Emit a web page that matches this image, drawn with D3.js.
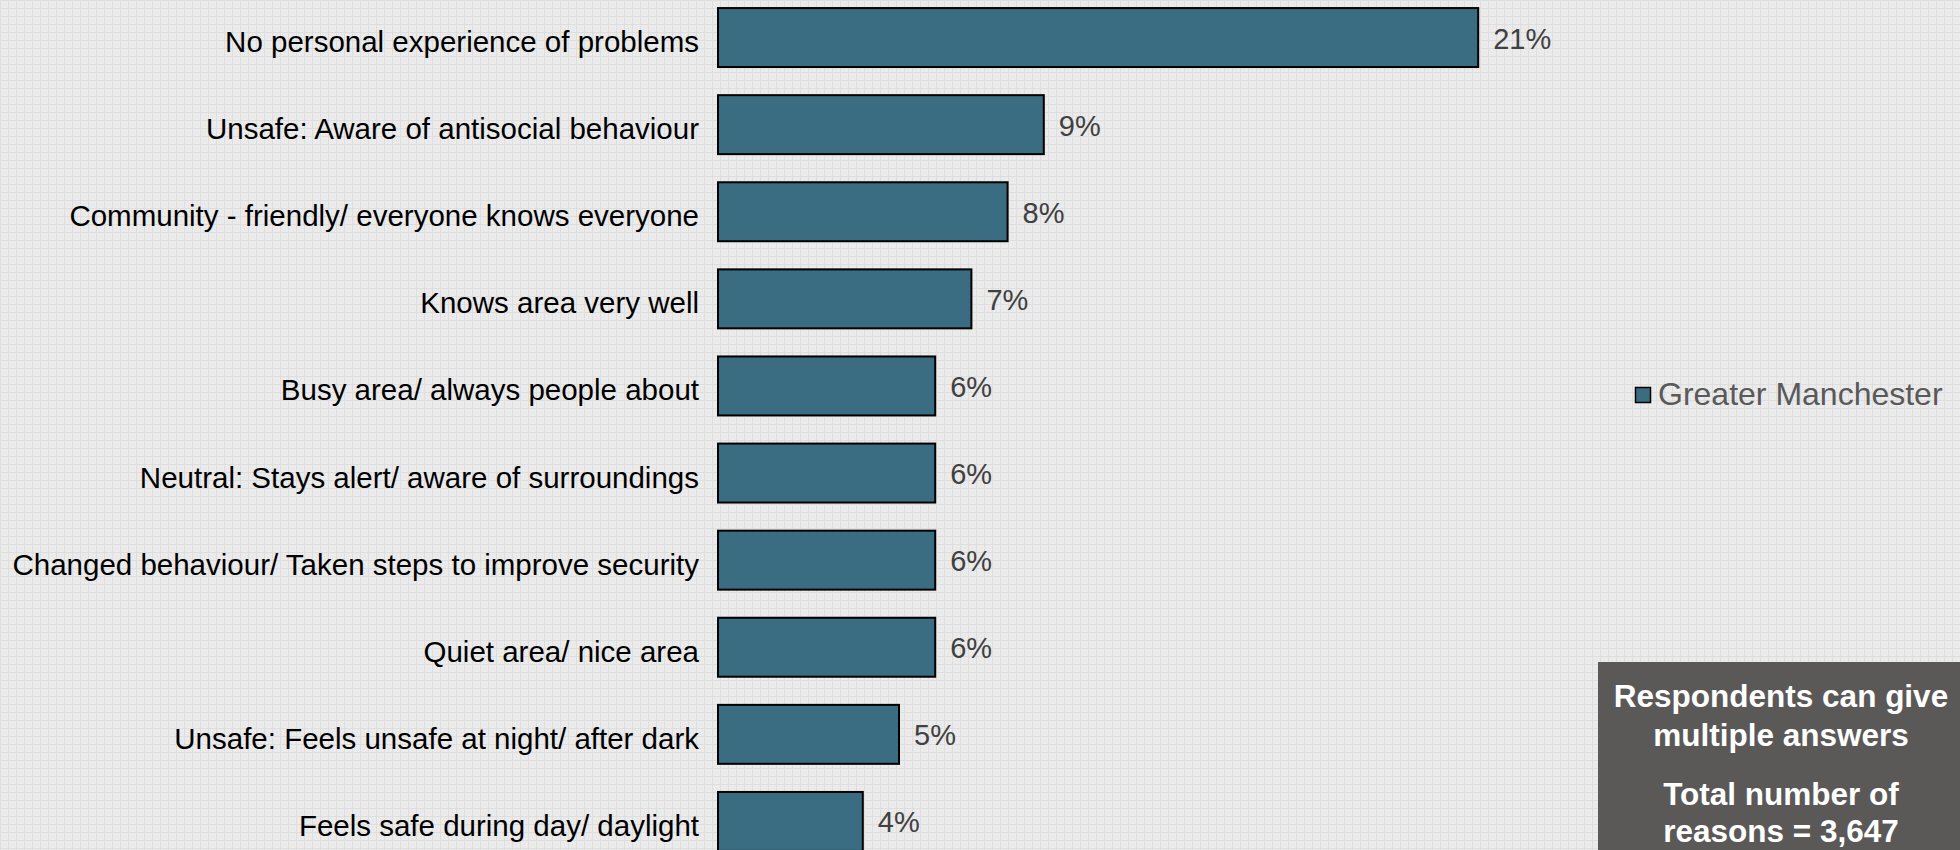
<!DOCTYPE html>
<html>
<head>
<meta charset="utf-8">
<script src="https://cdn.jsdelivr.net/npm/d3@7/dist/d3.min.js"></script>
<style>
html, body { margin: 0; padding: 0; background: #e9e9e9; overflow: hidden; }
svg { display: block; }
</style>
</head>
<body>
<script>
const categories = [
  "No personal experience of problems",
  "Unsafe: Aware of antisocial behaviour",
  "Community - friendly/ everyone knows everyone",
  "Knows area very well",
  "Busy area/ always people about",
  "Neutral: Stays alert/ aware of surroundings",
  "Changed behaviour/ Taken steps to improve security",
  "Quiet area/ nice area",
  "Unsafe: Feels unsafe at night/ after dark",
  "Feels safe during day/ daylight"
];
const values = [21, 9, 8, 7, 6, 6, 6, 6, 5, 4];
const seriesName = "Greater Manchester";
const noteLines = [["Respondents can give", "multiple answers"], ["Total number of", "reasons = 3,647"]];

const W = 1960, H = 850;
const svg = d3.select("body").append("svg").attr("width", W).attr("height", H);

// background texture
const defs = svg.append("defs");
const pat = defs.append("pattern").attr("id", "bg").attr("width", 8).attr("height", 8)
  .attr("patternUnits", "userSpaceOnUse");
pat.append("rect").attr("width", 8).attr("height", 8).attr("fill", "#ebebeb");
pat.append("rect").attr("x", 0).attr("y", 0).attr("width", 8).attr("height", 1).attr("fill", "#dedede");
pat.append("rect").attr("x", 0).attr("y", 0).attr("width", 1).attr("height", 8).attr("fill", "#dedede");
pat.append("rect").attr("x", 4).attr("y", 4).attr("width", 1).attr("height", 1).attr("fill", "#e2e2e2");
svg.append("rect").attr("width", W).attr("height", H).attr("fill", "url(#bg)");

const x = d3.scaleLinear().domain([0, 25]).range([718, 718 + 905]);
const y = d3.scaleBand().domain(categories).range([-6, -6 + 871]).paddingInner(0.323).paddingOuter(0.1615);

const barColor = "#3a6d81";
const font = "Liberation Sans, Arial, sans-serif";

svg.append("g").selectAll("rect").data(values).join("rect")
  .attr("x", x(0))
  .attr("y", (d, i) => y(categories[i]))
  .attr("width", d => x(d) - x(0))
  .attr("height", y.bandwidth())
  .attr("fill", barColor)
  .attr("stroke", "#000")
  .attr("stroke-width", 2);

svg.append("g").selectAll("text").data(categories).join("text")
  .attr("x", 699)
  .attr("y", d => y(d) + y.bandwidth() / 2 + 14.5)
  .attr("text-anchor", "end")
  .attr("font-family", font)
  .attr("font-size", 29.5)
  .attr("fill", "#000")
  .text(d => d);

svg.append("g").selectAll("text").data(values).join("text")
  .attr("x", d => x(d) + 15)
  .attr("y", (d, i) => y(categories[i]) + y.bandwidth() / 2 + 11)
  .attr("font-family", font)
  .attr("font-size", 29)
  .attr("fill", "#404040")
  .text(d => d + "%");

// legend
const lg = svg.append("g");
lg.append("rect").attr("x", 1635.5).attr("y", 387.5).attr("width", 15).attr("height", 15)
  .attr("fill", barColor).attr("stroke", "#000").attr("stroke-width", 1.5);
lg.append("text").attr("x", 1658).attr("y", 405).attr("font-family", font).attr("font-size", 32)
  .attr("fill", "#595959").text(seriesName);

// note box
const nb = svg.append("g");
nb.append("rect").attr("x", 1598).attr("y", 662).attr("width", W - 1598).attr("height", H - 662).attr("fill", "#5a5957");
const baselines = [[707, 746], [805, 842]];
noteLines.forEach((para, pi) => {
  para.forEach((line, li) => {
    nb.append("text").attr("x", 1781).attr("y", baselines[pi][li])
      .attr("text-anchor", "middle").attr("font-family", font).attr("font-weight", "bold")
      .attr("font-size", 31.5).attr("fill", "#fff").text(line);
  });
});
</script>
</body>
</html>
